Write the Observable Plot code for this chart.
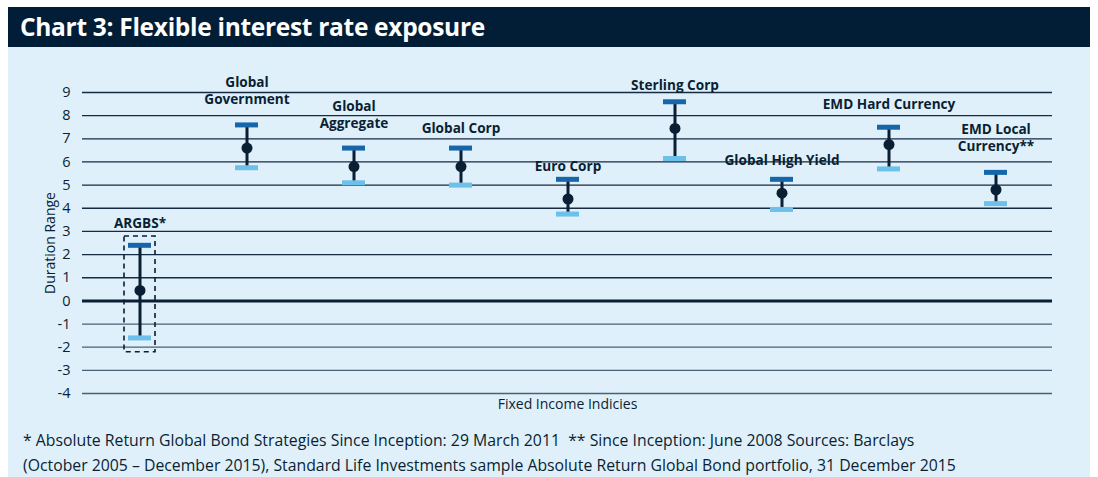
<!DOCTYPE html>
<html>
<head>
<meta charset="utf-8">
<script src="https://cdn.jsdelivr.net/npm/d3@7"></script>
<script src="https://cdn.jsdelivr.net/npm/@observablehq/plot@0.6"></script>
<style>
  html, body { margin: 0; padding: 0; background: #ffffff; }
  #wrap { position: absolute; left: 8px; top: 7px; width: 1082px; }
  #title { background: #021e36; color: #ffffff; height: 40px; line-height: 40px;
           font-family: "Open Sans", sans-serif; font-weight: 700; font-size: 24.5px;
           padding-left: 12px; box-sizing: border-box; letter-spacing: -0.3px; }
  #panel { background: #dff0fa; height: 430px; }
  #chart svg { display: block; }
  #foot { font-family: "Open Sans", sans-serif; font-size: 15.8px;
          color: #0a1f33; line-height: 25px; padding: 10px 0 0 15px; }
</style>
</head>
<body>
<div id="wrap">
  <div id="title">Chart 3: Flexible interest rate exposure</div>
  <div id="panel">
    <div id="chart"></div>
    <div id="foot">* Absolute Return Global Bond Strategies Since Inception: 29 March 2011&nbsp; ** Since Inception: June 2008 Sources: Barclays<br>(October 2005 – December 2015), Standard Life Investments sample Absolute Return Global Bond portfolio, 31 December 2015</div>
  </div>
</div>
<script>
const categories = ["ARGBS*", "Global\nGovernment", "Global\nAggregate", "Global Corp", "Euro Corp",
                    "Sterling Corp", "Global High Yield", "EMD Hard Currency", "EMD Local\nCurrency**"];
const highs = [2.4, 7.6, 6.6, 6.6, 5.25, 8.6, 5.25, 7.5, 5.55];
const mids  = [0.45, 6.6, 5.8, 5.8, 4.4, 7.45, 4.65, 6.75, 4.8];
const lows  = [-1.6, 5.75, 5.1, 5.0, 3.75, 6.15, 3.95, 5.7, 4.2];
const labelAt = [3.35, 9.05, 8.03, 7.45, 5.8, 9.3, 6.07, 8.49, 7.02];
const yTicks = [-4, -3, -2, -1, 0, 1, 2, 3, 4, 5, 6, 7, 8, 9];
const boxRange = [{name: "ARGBS*", top: 2.78, bottom: -2.22}];

const data = categories.map((c, i) => ({name: c, high: highs[i], mid: mids[i], low: lows[i], lab: labelAt[i]}));
const labelLines = [];
data.forEach(d => {
  const parts = d.name.split("\n");
  parts.forEach((p, j) => labelLines.push({name: d.name, lab: d.lab, line: p, off: (j - (parts.length - 1) / 2) * 17}));
});

const navy = "#0a1f33";
const plot = Plot.plot({
  width: 1082,
  height: 371,
  marginLeft: 74,
  marginRight: 38,
  marginTop: 45,
  marginBottom: 25,
  style: {background: "transparent", fontFamily: "'Open Sans', sans-serif", color: navy},
  x: {type: "band", domain: categories, padding: 0, axis: null},
  y: {domain: [-4, 9], ticks: yTicks},
  marks: [
    Plot.ruleY(yTicks.filter(d => d > 0), {stroke: "#152b44", strokeWidth: 1.3}),
    Plot.ruleY(yTicks.filter(d => d < 0), {stroke: "#4a6075", strokeWidth: 1.3}),
    Plot.ruleY([0], {stroke: navy, strokeWidth: 3}),
    Plot.axisY({ticks: yTicks, tickSize: 0, tickPadding: 12, fontSize: 14.5, label: null, tickFormat: d => String(d)}),
    Plot.text(["Duration Range"], {frameAnchor: "left", textAnchor: "middle", dx: -32, rotate: -90, fontSize: 14, fill: navy}),
    Plot.barY(boxRange, {x: "name", y1: "bottom", y2: "top", fill: "none", stroke: navy, strokeWidth: 1.6,
                         strokeDasharray: "5,4", insetLeft: 38, insetRight: 38}),
    Plot.ruleX(data, {x: "name", y1: "low", y2: "high", stroke: navy, strokeWidth: 3}),
    Plot.tickY(data, {x: "name", y: "high", stroke: "#1566aa", strokeWidth: 5, insetLeft: 42, insetRight: 42}),
    Plot.tickY(data, {x: "name", y: "low", stroke: "#6cc0ea", strokeWidth: 5, insetLeft: 42, insetRight: 42}),
    Plot.dot(data, {x: "name", y: "mid", r: 5.5, fill: navy, stroke: "none"}),
    ...[-8.5, 0, 8.5].map(o => Plot.text(labelLines.filter(d => d.off === o), {
      x: "name", y: "lab", text: "line", dy: o, fontWeight: "bold", fontSize: 13.6, fill: navy, lineAnchor: "middle"})),
    Plot.text(["Fixed Income Indicies"], {frameAnchor: "bottom", dy: 15, fontSize: 14, fill: navy})
  ]
});
document.getElementById("chart").appendChild(plot);
</script>
</body>
</html>
